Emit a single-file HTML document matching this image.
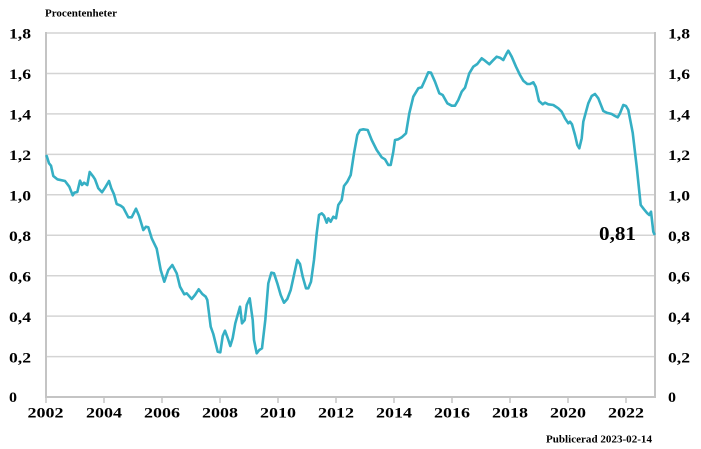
<!DOCTYPE html>
<html>
<head>
<meta charset="utf-8">
<style>
  html,body{margin:0;padding:0;background:#fff;}
  svg{display:block;}
  text{font-family:"Liberation Serif","Times New Roman",serif;font-weight:bold;fill:#000;}
</style>
</head>
<body>
<svg width="701" height="449" viewBox="0 0 701 449" xmlns="http://www.w3.org/2000/svg">
  <rect x="0" y="0" width="701" height="449" fill="#fff"/>
  <!-- gridlines -->
  <g stroke="#d4d4d4" stroke-width="1.5">
    <line x1="46" y1="33" x2="655" y2="33"/>
    <line x1="46" y1="73.5" x2="655" y2="73.5"/>
    <line x1="46" y1="113.9" x2="655" y2="113.9"/>
    <line x1="46" y1="154.4" x2="655" y2="154.4"/>
    <line x1="46" y1="194.8" x2="655" y2="194.8"/>
    <line x1="46" y1="235.2" x2="655" y2="235.2"/>
    <line x1="46" y1="275.7" x2="655" y2="275.7"/>
    <line x1="46" y1="316.1" x2="655" y2="316.1"/>
    <line x1="46" y1="356.6" x2="655" y2="356.6"/>
  </g>
  <!-- axes -->
  <g stroke="#c4c4c4" stroke-width="2">
    <line x1="46" y1="32" x2="46" y2="398"/>
    <line x1="655" y1="32" x2="655" y2="398"/>
    <line x1="45" y1="397" x2="656" y2="397"/>
  </g>
  <g stroke="#c4c4c4" stroke-width="1.5">
    <line x1="46" y1="397" x2="46" y2="403"/>
    <line x1="104" y1="397" x2="104" y2="403"/>
    <line x1="162" y1="397" x2="162" y2="403"/>
    <line x1="220" y1="397" x2="220" y2="403"/>
    <line x1="278" y1="397" x2="278" y2="403"/>
    <line x1="336" y1="397" x2="336" y2="403"/>
    <line x1="394" y1="397" x2="394" y2="403"/>
    <line x1="452" y1="397" x2="452" y2="403"/>
    <line x1="510" y1="397" x2="510" y2="403"/>
    <line x1="568" y1="397" x2="568" y2="403"/>
    <line x1="626" y1="397" x2="626" y2="403"/>
  </g>

  <!-- data line -->
  <polyline fill="none" stroke="#35afc4" stroke-width="2.6" stroke-linejoin="round" stroke-linecap="round" points="
46.7,156 49,163.3 51,165.7 53.3,176 57.3,179.3 65,181 69.3,186.7 72.7,195.3 74.3,192.7 77.3,192 80,180.7 82,185 84,182.7 87.3,185 89.7,172 93.3,176.7 95,179.3 98.3,188.3 102,192.3 105.3,187.3 109,181 111.3,188.3 114,194.3 116.7,204 120.7,205.7 123.3,207.7 128.3,217.3 131.7,217.3 136,208.7 139,215.7 143.3,230 146,226.7 148.3,227.3 151.7,238.3 156.7,248.7 160.7,270 164.3,281.7 168.3,270 172.3,265 176.7,273.3 180,286.7 184.3,294.3 186.7,293.3 191.7,299 195,295 198.7,289.3 202.3,294 205.7,296.7 207.3,300 210.7,326.7 213.3,334 217.7,351.7 220.3,352.3 222.7,336 225,330.7 227.7,338 230.3,346 232.7,338 235.3,323.3 240,306.7 242,323.3 244.7,320 246.7,305 249.7,298.3 252.7,320 254,340 256.7,353.3 259.3,350 262,348.3 265.3,320 268.3,283.3 271.3,272.7 274,273.3 277.3,283.3 280.7,295 284,302.7 287.3,299 290.7,290 294,275 297.3,260 300,264 302.7,276.7 306,288.3 308.3,288.3 311,281.7 314,260 316.7,233.3 319,215 321.7,213.3 324,215.7 326.7,222.7 328.3,218.3 330.7,221.7 333.3,216.7 336,218.3 338.3,205 341.7,200 344,186 347.3,181.7 350.7,175 354,153.3 357.3,135 360,130 363.3,129.3 367.7,130 371.7,140 376.7,150 381.7,157.3 385,159.3 388.3,165 390.7,165 393.3,151.7 395,140 398.3,139.3 401.7,137.3 406,133.3 409.3,113.3 413.3,96.7 418.3,88.3 421.7,87.3 425,80 428.3,72.3 431,72.7 435,81.7 439.3,93.3 442.7,95 447.3,103.3 451.7,105.7 455,105.7 458.3,100 461.7,91.7 465,87.7 469.3,73.3 473.3,66.7 477.3,64 481.7,58.3 485,60.7 489.3,64.3 492.7,60.7 496.7,56.7 500,57.7 503.3,60 506.7,53.3 508.3,50.7 511.7,56.7 516,66.7 520,75 523.3,80.7 527.3,84 530,84 533.3,82.3 535.7,86.7 539,101 542.7,104.3 545,102.7 548.3,104.3 553.3,105 558.3,108.3 561.7,111.7 565,118.3 568.3,123.3 570,121.7 572,124.3 575,135 577.3,145 579.3,148.3 581.7,138.3 583.3,121.7 586,111.7 588.3,103.3 591.7,96 595,94 598.3,98.3 603.3,111 606.7,112.7 611.7,114 615,116 617.7,117.3 620,113.3 623.3,105 626,106 628.3,110 632.7,132.7 636.7,166.7 640.7,205 644,209.3 647.3,213.3 649.3,215 651,211.7 653.3,231.7 654.3,234"/>

  <!-- title -->
  <text x="45" y="16.5" font-size="11" textLength="72" lengthAdjust="spacingAndGlyphs">Procentenheter</text>

  <!-- left y labels -->
  <g font-size="15">
    <text x="9" y="38.7" textLength="22" lengthAdjust="spacingAndGlyphs">1,8</text>
    <text x="9" y="79.2" textLength="22" lengthAdjust="spacingAndGlyphs">1,6</text>
    <text x="9" y="119.6" textLength="22" lengthAdjust="spacingAndGlyphs">1,4</text>
    <text x="9" y="160.1" textLength="22" lengthAdjust="spacingAndGlyphs">1,2</text>
    <text x="9" y="200.5" textLength="22" lengthAdjust="spacingAndGlyphs">1,0</text>
    <text x="9" y="240.9" textLength="22" lengthAdjust="spacingAndGlyphs">0,8</text>
    <text x="9" y="281.4" textLength="22" lengthAdjust="spacingAndGlyphs">0,6</text>
    <text x="9" y="321.8" textLength="22" lengthAdjust="spacingAndGlyphs">0,4</text>
    <text x="9" y="362.3" textLength="22" lengthAdjust="spacingAndGlyphs">0,2</text>
    <text x="9" y="402.2" textLength="8" lengthAdjust="spacingAndGlyphs">0</text>
  </g>
  <!-- right y labels -->
  <g font-size="15">
    <text x="668" y="38.7" textLength="22" lengthAdjust="spacingAndGlyphs">1,8</text>
    <text x="668" y="79.2" textLength="22" lengthAdjust="spacingAndGlyphs">1,6</text>
    <text x="668" y="119.6" textLength="22" lengthAdjust="spacingAndGlyphs">1,4</text>
    <text x="668" y="160.1" textLength="22" lengthAdjust="spacingAndGlyphs">1,2</text>
    <text x="668" y="200.5" textLength="22" lengthAdjust="spacingAndGlyphs">1,0</text>
    <text x="668" y="240.9" textLength="22" lengthAdjust="spacingAndGlyphs">0,8</text>
    <text x="668" y="281.4" textLength="22" lengthAdjust="spacingAndGlyphs">0,6</text>
    <text x="668" y="321.8" textLength="22" lengthAdjust="spacingAndGlyphs">0,4</text>
    <text x="668" y="362.3" textLength="22" lengthAdjust="spacingAndGlyphs">0,2</text>
    <text x="668" y="402.2" textLength="8" lengthAdjust="spacingAndGlyphs">0</text>
  </g>

  <!-- x labels -->
  <g font-size="15">
    <text x="27.5" y="417.5" textLength="36" lengthAdjust="spacingAndGlyphs">2002</text>
    <text x="86" y="417.5" textLength="36" lengthAdjust="spacingAndGlyphs">2004</text>
    <text x="144" y="417.5" textLength="36" lengthAdjust="spacingAndGlyphs">2006</text>
    <text x="202" y="417.5" textLength="36" lengthAdjust="spacingAndGlyphs">2008</text>
    <text x="260" y="417.5" textLength="36" lengthAdjust="spacingAndGlyphs">2010</text>
    <text x="318" y="417.5" textLength="36" lengthAdjust="spacingAndGlyphs">2012</text>
    <text x="376" y="417.5" textLength="36" lengthAdjust="spacingAndGlyphs">2014</text>
    <text x="434" y="417.5" textLength="36" lengthAdjust="spacingAndGlyphs">2016</text>
    <text x="492" y="417.5" textLength="36" lengthAdjust="spacingAndGlyphs">2018</text>
    <text x="550" y="417.5" textLength="36" lengthAdjust="spacingAndGlyphs">2020</text>
    <text x="608" y="417.5" textLength="36" lengthAdjust="spacingAndGlyphs">2022</text>
  </g>

  <!-- value annotation -->
  <text x="599" y="240" font-size="20" textLength="37" lengthAdjust="spacingAndGlyphs">0,81</text>

  <!-- footer -->
  <text x="546" y="442.7" font-size="11" textLength="106" lengthAdjust="spacingAndGlyphs">Publicerad 2023-02-14</text>
</svg>
</body>
</html>
